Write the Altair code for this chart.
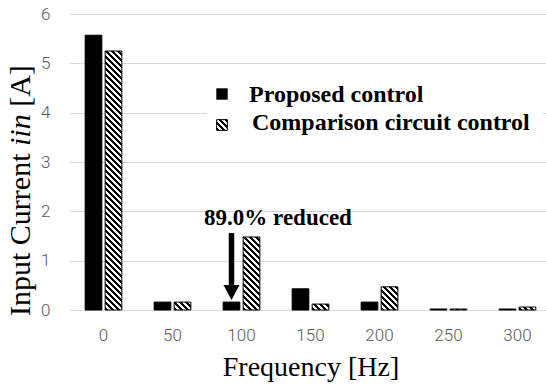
import math
import altair as alt
import pandas as pd

# ---------------- data ----------------
freqs = [0, 50, 100, 150, 200, 250, 300]
proposed = [5.57, 0.16, 0.16, 0.43, 0.16, 0.02, 0.02]
comparison = [5.25, 0.16, 1.48, 0.12, 0.47, 0.02, 0.06]
series_names = ["Proposed control", "Comparison circuit control"]
y_ticks = [0, 1, 2, 3, 4, 5, 6]
annotation_text = "89.0% reduced"
arrow_freq = 100
arrow_top = 1.56
arrow_head_base = 0.51
arrow_tip = 0.2
y_title_parts = ["Input Current", "iin", "[A]"]
x_title = "Frequency [Hz]"

# ---------------- layout ----------------
W, H = 477, 296
Y_MAX = 6
X_RANGE = 483            # 7 bands of 69 px (last one partially outside the view)
OFF_PI, OFF_PO = 0.165, 0.807
BAND = X_RANGE / len(freqs)
BAR_W = BAND / (2 - OFF_PI + 2 * OFF_PO) * (1 - OFF_PI)
PX_PER_UNIT = H / Y_MAX

SERIF = "Liberation Serif"
SANS = "Roboto"
GRID = "#d9d9d9"
LABEL = "#595959"


def hatch(w, h, period=6.0, black=0.5):
    """Diagonal (top-left to bottom-right) stripes as a bbox linear gradient."""
    w = max(w, 0.5)
    h = max(h, 0.5)
    k = (w + h) / (w * w + h * h)
    n = max((w + h) / period, 1.0)
    stops = []
    for i in range(int(math.ceil(n))):
        a = min(i / n, 1.0)
        b = min((i + black) / n, 1.0)
        c = min((i + 1) / n, 1.0)
        stops += [
            {"offset": a, "color": "black"},
            {"offset": b, "color": "black"},
            {"offset": b, "color": "white"},
            {"offset": c, "color": "white"},
        ]
    return {"gradient": "linear", "x1": 0, "y1": 1, "x2": k * w, "y2": 1 - k * h,
            "stops": stops}


rows = []
for f, p, c in zip(freqs, proposed, comparison):
    rows.append({"freq": f, "series": series_names[0], "value": p})
    rows.append({"freq": f, "series": series_names[1], "value": c})
df = pd.DataFrame(rows)

x_enc = alt.X("freq:O", sort=freqs,
              scale=alt.Scale(domain=freqs, range=[0, X_RANGE], paddingInner=0, paddingOuter=0),
              axis=alt.Axis(title=x_title, labelAngle=0, domain=False, ticks=False, tickSize=0,
                            labelPadding=17, labelFont=SANS, labelFontSize=17,
                            labelFontWeight=300, labelColor=LABEL,
                            titleFont=SERIF, titleFontSize=28, titleFontWeight="normal",
                            titleColor="black", titleBaseline="alphabetic", titleY=65,
                            titleX=W / 2 + 3))
xoff_enc = alt.XOffset("series:N", sort=series_names,
                       scale=alt.Scale(domain=series_names, paddingInner=OFF_PI, paddingOuter=OFF_PO))
y_enc = alt.Y("value:Q",
              scale=alt.Scale(domain=[0, Y_MAX], nice=False),
              axis=alt.Axis(title=None, values=y_ticks, domain=False, ticks=False, tickSize=0,
                            labelPadding=19, labelFont=SANS, labelFontSize=17,
                            labelFontWeight=300, labelColor=LABEL,
                            grid=True, gridColor=GRID, gridWidth=1))

fill_conditions = [
    {"test": f"datum.series == '{series_names[1]}' && datum.freq == {f}",
     "value": hatch(BAR_W, v * PX_PER_UNIT)}
    for f, v in zip(freqs, comparison)
]

bars = alt.Chart(df).mark_bar(stroke="black", strokeWidth=1).encode(
    x=x_enc, xOffset=xoff_enc, y=y_enc,
    fill=alt.value("black", condition=fill_conditions),
)

# arrow
arrow_df = pd.DataFrame({"freq": [arrow_freq], "series": [series_names[0]],
                         "top": [arrow_top], "base": [arrow_head_base],
                         "head": [(arrow_head_base + arrow_tip) / 2]})
arrow_shaft = alt.Chart(arrow_df).mark_rule(color="black", strokeWidth=5.5).encode(
    x=alt.X("freq:O"), xOffset=alt.XOffset("series:N"),
    y=alt.Y("top:Q"), y2="base:Q")
arrow_head = alt.Chart(arrow_df).mark_point(
    shape="M-1,-0.94L1,-0.94L0,0.94Z", filled=True, size=256, color="black", opacity=1
).encode(x=alt.X("freq:O"), xOffset=alt.XOffset("series:N"), y=alt.Y("head:Q"))

# annotation text
annot = alt.Chart(pd.DataFrame({"t": [annotation_text]})).mark_text(
    font=SERIF, fontSize=23, fontWeight="bold", align="center", baseline="alphabetic",
    color="black").encode(text="t:N", x=alt.value(209), y=alt.value(211))

# legend (drawn inside plot)
leg_bg = alt.Chart(pd.DataFrame({"a": [0]})).mark_rect(fill="white").encode(
    x=alt.value(138), x2=alt.value(474), y=alt.value(62), y2=alt.value(136))
leg_sq1 = alt.Chart(pd.DataFrame({"a": [0]})).mark_square(
    size=130, fill="black", opacity=1).encode(x=alt.value(153), y=alt.value(80))
leg_sq2 = alt.Chart(pd.DataFrame({"a": [0]})).mark_square(
    size=115, fill=hatch(10.7, 10.7), stroke="black", strokeWidth=1, opacity=1).encode(
    x=alt.value(153), y=alt.value(111))
leg_t1 = alt.Chart(pd.DataFrame({"t": [series_names[0]]})).mark_text(
    font=SERIF, fontSize=24, fontWeight="bold", align="left", baseline="alphabetic",
    color="black").encode(text="t:N", x=alt.value(180), y=alt.value(88))
leg_t2 = alt.Chart(pd.DataFrame({"t": [series_names[1]]})).mark_text(
    font=SERIF, fontSize=24, fontWeight="bold", align="left", baseline="alphabetic",
    color="black").encode(text="t:N", x=alt.value(183), y=alt.value(116))

# y-axis title with italic part
YT_SIZE = 30
YT_X = -39
w_main = 5.416 * YT_SIZE
w_sp = 0.25 * YT_SIZE
w_it = 1.056 * YT_SIZE
start = 302
yt1 = alt.Chart(pd.DataFrame({"t": [y_title_parts[0]]})).mark_text(
    font=SERIF, fontSize=YT_SIZE, angle=270, align="left", baseline="alphabetic",
    color="black").encode(text="t:N", x=alt.value(YT_X), y=alt.value(start))
yt2 = alt.Chart(pd.DataFrame({"t": [y_title_parts[1]]})).mark_text(
    font=SERIF, fontSize=YT_SIZE, fontStyle="italic", angle=270, align="left",
    baseline="alphabetic", color="black").encode(
    text="t:N", x=alt.value(YT_X), y=alt.value(start - w_main - w_sp))
yt3 = alt.Chart(pd.DataFrame({"t": [y_title_parts[2]]})).mark_text(
    font=SERIF, fontSize=YT_SIZE, angle=270, align="left", baseline="alphabetic",
    color="black").encode(
    text="t:N", x=alt.value(YT_X), y=alt.value(start - w_main - 2 * w_sp - w_it))

chart = alt.layer(
    bars, leg_bg, leg_sq1, leg_sq2, leg_t1, leg_t2, arrow_shaft, arrow_head, annot,
    yt1, yt2, yt3,
).properties(
    width=W, height=H,
    autosize=alt.AutoSizeParams(type="none"),
    padding={"left": 69, "top": 14, "right": 0, "bottom": 75},
    background="white",
).configure_view(stroke=None)

chart.save("out.html", embed_options={"renderer": "svg", "actions": False})
